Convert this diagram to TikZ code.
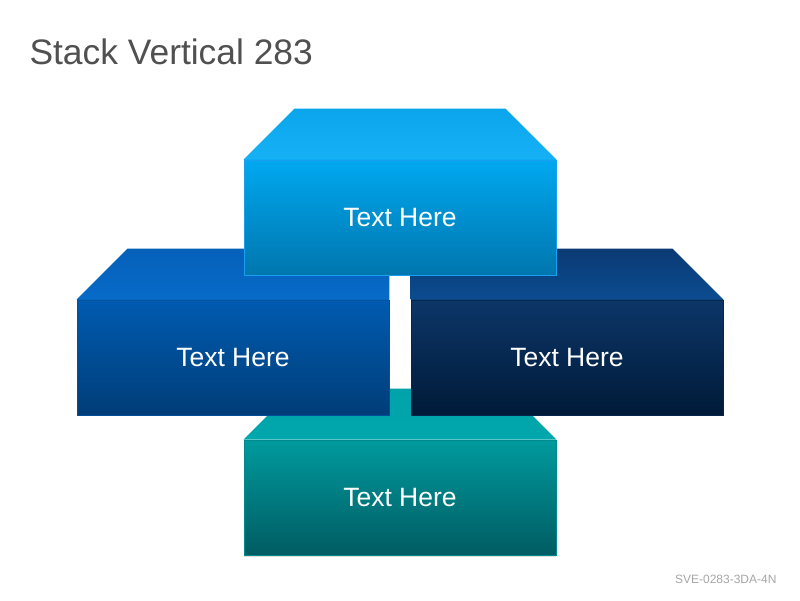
\documentclass[tikz,border=0pt]{standalone}
\usepackage{fontspec}
\setmainfont{Liberation Sans}
\usetikzlibrary{calc,shadows}

\definecolor{titlegray}{HTML}{505050}
\definecolor{codegray}{HTML}{A6A6A6}
% top box
\definecolor{skyback}{HTML}{0AA5EC}
\definecolor{skyfront}{HTML}{16B1F5}
\definecolor{skyhigh}{HTML}{00A8EF}
\definecolor{skylow}{HTML}{0076AE}
\definecolor{skyedge}{HTML}{1A9EF0}
% left box
\definecolor{royalback}{HTML}{0560BA}
\definecolor{royalfront}{HTML}{076BC8}
\definecolor{royalhigh}{HTML}{005BB0}
\definecolor{royallow}{HTML}{003D78}
\definecolor{royaledge}{HTML}{00509C}
% right box
\definecolor{navyback}{HTML}{0B3A74}
\definecolor{navyfront}{HTML}{0B4C90}
\definecolor{navyhigh}{HTML}{0C3668}
\definecolor{navylow}{HTML}{001A38}
\definecolor{navyedge}{HTML}{02264E}
% bottom box
\definecolor{tealback}{HTML}{00A3A9}
\definecolor{tealfront}{HTML}{00A7AD}
\definecolor{tealhigh}{HTML}{009A9E}
\definecolor{teallow}{HTML}{005C62}
\definecolor{tealedge}{HTML}{008A8C}

\tikzset{
  boxfront/.style n args={3}{minimum width=312pt, minimum height=115pt, inner sep=0pt,
    draw=#3, line width=0.8pt, top color=#1, bottom color=#2,
    text=white, font=\fontsize{26.5}{30}\selectfont},
}

\begin{document}
\begin{tikzpicture}[x=1pt, y=1pt]
  \useasboundingbox (0,0) rectangle (800,600);
  \fill[white] (0,0) rectangle (800,600);

  \node[anchor=base west, text=titlegray, font=\fontsize{35.4}{40}\selectfont] (title) at (26,535) {Stack Vertical 283};

  % bottom box
  \node[boxfront={tealhigh}{teallow}{tealedge}, drop shadow={opacity=0.25, shadow xshift=0pt, shadow yshift=-2pt}] (bottombox) at (400,102.5) {Text Here};
  \path[top color=tealback, bottom color=tealfront] (bottombox.north west) -- ++(51,51)
    -- ($(bottombox.north east)+(-51,51)$) -- (bottombox.north east) -- cycle;

  % left box
  \node[boxfront={royalhigh}{royallow}{royaledge}] (leftbox) at (233,242.5) {Text Here};
  \path[top color=royalback, bottom color=royalfront] (leftbox.north west) -- ++(51,51)
    -- ($(leftbox.north east)+(0,51)$) -- (leftbox.north east) -- cycle;

  % right box
  \node[boxfront={navyhigh}{navylow}{navyedge}] (rightbox) at (567,242.5) {Text Here};
  \path[top color=navyback, bottom color=navyfront] (rightbox.north west) -- ++(0,51)
    -- ($(rightbox.north east)+(-51,51)$) -- (rightbox.north east) -- cycle;

  % top box
  \node[boxfront={skyhigh}{skylow}{skyedge}] (topbox) at (400,382.5) {Text Here};
  \path[top color=skyback, bottom color=skyfront] (topbox.north west) -- ++(51,51)
    -- ($(topbox.north east)+(-51,51)$) -- (topbox.north east) -- cycle;

  \node[anchor=base east, text=codegray, font=\fontsize{12}{14}\selectfont] (code) at (780,17) {SVE-0283-3DA-4N};
\end{tikzpicture}
\end{document}
